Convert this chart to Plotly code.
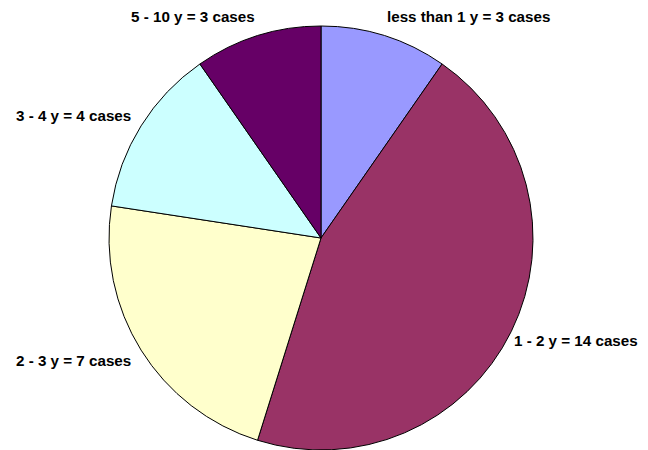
import math
import plotly.graph_objects as go

categories = ["less than 1 y", "1 - 2 y", "2 - 3 y", "3 - 4 y", "5 - 10 y"]
cases = [3, 14, 7, 4, 3]
colors = ["#9999FF", "#993366", "#FFFFCC", "#CCFFFF", "#660066"]

OFF = 8  # default page body margin in the browser
W, H = 648 - 2 * OFF, 450 - OFF
cx, cy, R = 321 - OFF, 238 - OFF, 212  # pie centre / radius in figure pixels
FONT = 15.2

fig = go.Figure(go.Pie(
    labels=categories,
    values=cases,
    sort=False,
    direction="clockwise",
    rotation=0,
    marker=dict(colors=colors, line=dict(color="#000000", width=1)),
    textinfo="none",
    hoverinfo="label+value",
    showlegend=False,
    domain=dict(x=[(cx - R) / W, (cx + R) / W], y=[(H - cy - R) / H, (H - cy + R) / H]),
))

total = sum(cases)
cum = 0
annotations = []
rx, ry = 225, 232
pad = 3  # annotation box padding
for cat, v in zip(categories, cases):
    text = f"{cat} = {v} cases"
    mid = (cum + v / 2) / total * 2 * math.pi
    cum += v
    right = math.sin(mid) >= 0
    px = cx + rx * math.sin(mid) + (-pad if right else pad)
    py = cy - ry * math.cos(mid)
    xanchor = "left" if right else "right"
    est_w = len(text) * 0.5 * FONT
    if right and px + est_w > W:
        px, xanchor = W, "right"
    annotations.append(dict(
        x=px / W, y=1 - py / H, xref="paper", yref="paper",
        text=f"<b>{text}</b>", showarrow=False,
        xanchor=xanchor, yanchor="middle",
        font=dict(family="Liberation Sans, Arial, sans-serif", size=FONT, color="#000000"),
    ))

fig.update_layout(
    width=W, height=H,
    margin=dict(l=0, r=0, t=0, b=0),
    paper_bgcolor="#FFFFFF", plot_bgcolor="#FFFFFF",
    annotations=annotations,
)

fig.write_html("out.html")
